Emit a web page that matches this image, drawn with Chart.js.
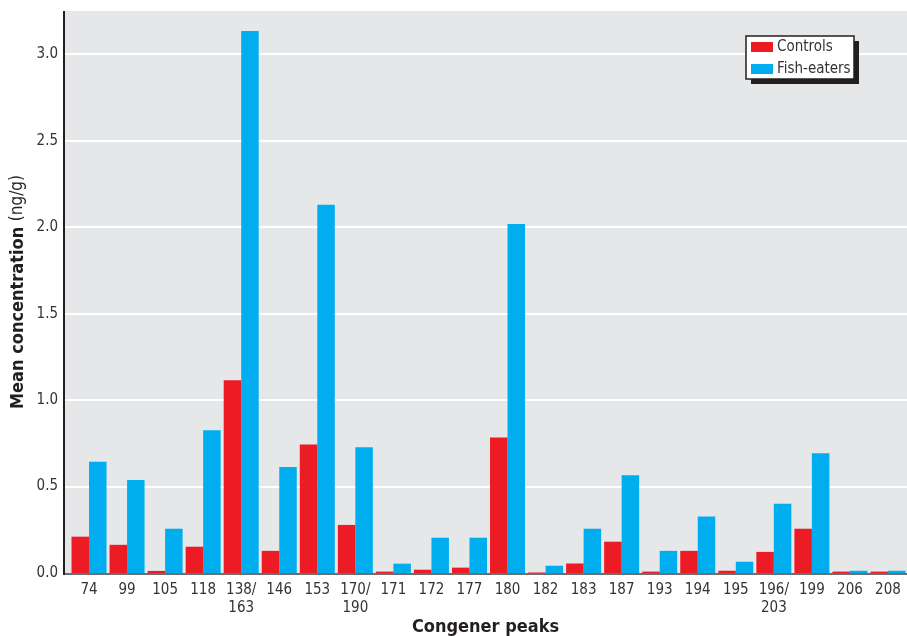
<!DOCTYPE html>
<html>
<head>
<meta charset="utf-8">
<title>Congener peaks</title>
<script src="https://cdn.jsdelivr.net/npm/chart.js@4/dist/chart.umd.min.js"></script>
<style>
  html, body { margin: 0; padding: 0; background: #fff; }
  #wrap { position: relative; width: 907px; height: 636px; }
</style>
</head>
<body>
<div id="wrap"><canvas id="chart" width="907" height="636"></canvas></div>
<script>
const congeners = ['74', '99', '105', '118', ['138/', '163'], '146', '153', ['170/', '190'], '171', '172', '177', '180',
  '182', '183', '187', '193', '194', '195', ['196/', '203'], '199', '206', '208'];
const controls = [0.21, 0.163, 0.012, 0.152, 1.115, 0.128, 0.743, 0.278, 0.008, 0.019, 0.031, 0.783,
  0.003, 0.055, 0.181, 0.008, 0.128, 0.013, 0.122, 0.256, 0.008, 0.008];
const fishEaters = [0.643, 0.538, 0.256, 0.826, 3.134, 0.613, 2.13, 0.727, 0.054, 0.204, 0.204, 2.018,
  0.042, 0.256, 0.565, 0.128, 0.327, 0.065, 0.40, 0.692, 0.013, 0.013];
const yTicks = [0, 0.5, 1.0, 1.5, 2.0, 2.5, 3.0];

const FONT = "'Liberation Sans Narrow', 'DejaVu Sans Condensed', 'Roboto Condensed', sans-serif";
const RED = '#ed1c24';
const BLUE = '#00aeef';
const PLOT_LEFT = 64;

// grey plot background, white gridlines, left axis line
const backdrop = {
  id: 'backdrop',
  beforeDatasetsDraw(chart) {
    const ctx = chart.ctx, a = chart.chartArea, y = chart.scales.y;
    ctx.save();
    ctx.fillStyle = '#e6e7e8';
    ctx.fillRect(PLOT_LEFT, a.top, a.right - PLOT_LEFT, a.bottom - a.top);
    ctx.strokeStyle = '#ffffff';
    ctx.lineWidth = 2;
    yTicks.forEach(v => {
      if (v === 0) return;
      const py = Math.round(y.getPixelForValue(v));
      ctx.beginPath(); ctx.moveTo(PLOT_LEFT, py); ctx.lineTo(a.right, py); ctx.stroke();
    });
    ctx.restore();
  },
  afterDatasetsDraw(chart) {
    const ctx = chart.ctx, a = chart.chartArea;
    ctx.save();
    ctx.strokeStyle = '#6d6e71';
    ctx.lineWidth = 2;
    ctx.beginPath(); ctx.moveTo(PLOT_LEFT, a.bottom + 1); ctx.lineTo(a.right, a.bottom + 1); ctx.stroke();
    ctx.strokeStyle = '#231f20';
    ctx.beginPath(); ctx.moveTo(PLOT_LEFT, a.top); ctx.lineTo(PLOT_LEFT, a.bottom + 2); ctx.stroke();
    ctx.restore();
  }
};

// axis titles (y title mixes bold and normal) and boxed legend with shadow
const labels = {
  id: 'labels',
  afterDraw(chart) {
    const ctx = chart.ctx, a = chart.chartArea;
    ctx.save();
    ctx.fillStyle = '#231f20';
    ctx.textBaseline = 'middle';

    ctx.font = 'bold 18px ' + FONT;
    ctx.textAlign = 'center';
    ctx.fillText('Congener peaks', (PLOT_LEFT + a.right) / 2, 627);

    const boldPart = 'Mean concentration ';
    const normPart = '(ng/g)';
    ctx.font = 'bold 18px ' + FONT;
    const w1 = ctx.measureText(boldPart).width;
    ctx.font = '17px ' + FONT;
    const w2 = ctx.measureText(normPart).width;
    ctx.translate(18, (a.top + a.bottom) / 2);
    ctx.rotate(-Math.PI / 2);
    ctx.textAlign = 'left';
    ctx.font = 'bold 18px ' + FONT;
    ctx.fillText(boldPart, -(w1 + w2) / 2, 0);
    ctx.font = '17px ' + FONT;
    ctx.fillText(normPart, -(w1 + w2) / 2 + w1, 0);
    ctx.restore();

    ctx.save();
    const bx = 746, by = 36, bw = 108, bh = 43;
    ctx.fillStyle = '#231f20';
    ctx.fillRect(bx + 5, by + 5, bw, bh);
    ctx.fillStyle = '#ffffff';
    ctx.fillRect(bx, by, bw, bh);
    ctx.strokeStyle = '#231f20';
    ctx.lineWidth = 1.5;
    ctx.strokeRect(bx, by, bw, bh);
    ctx.font = '15px ' + FONT;
    ctx.textBaseline = 'middle';
    ctx.textAlign = 'left';
    chart.data.datasets.forEach((ds, i) => {
      const ry = by + 6 + i * 22;
      ctx.fillStyle = ds.backgroundColor;
      ctx.fillRect(bx + 5, ry, 22, 10);
      ctx.fillStyle = '#333333';
      ctx.fillText(ds.label, bx + 31, ry + 5);
    });
    ctx.restore();
  }
};

new Chart(document.getElementById('chart').getContext('2d'), {
  type: 'bar',
  data: {
    labels: congeners,
    datasets: [
      { label: 'Controls', data: controls, backgroundColor: RED },
      { label: 'Fish-eaters', data: fishEaters, backgroundColor: BLUE }
    ]
  },
  options: {
    responsive: false,
    animation: false,
    layout: { padding: { top: 11, right: 0, left: 0, bottom: 0 } },
    datasets: { bar: { categoryPercentage: 0.92, barPercentage: 1.0 } },
    plugins: { legend: { display: false }, tooltip: { enabled: false } },
    scales: {
      x: {
        grid: { display: false, drawTicks: false },
        border: { display: false },
        ticks: { color: '#333333', font: { family: FONT, size: 15 }, padding: 8, maxRotation: 0, autoSkip: false },
        afterFit(s) { s.height = 63; s.paddingLeft = 0; s.paddingRight = 0; }
      },
      y: {
        min: 0,
        max: 3.25,
        grid: { display: false, drawTicks: false },
        border: { display: false },
        afterBuildTicks(s) { s.ticks = yTicks.map(v => ({ value: v })); },
        ticks: {
          color: '#333333',
          font: { family: FONT, size: 15 },
          padding: 12,
          callback: v => Number(v).toFixed(1)
        },
        afterFit(s) { s.width = 70; s.paddingTop = 0; s.paddingBottom = 0; }
      }
    }
  },
  plugins: [backdrop, labels]
});
</script>
</body>
</html>
